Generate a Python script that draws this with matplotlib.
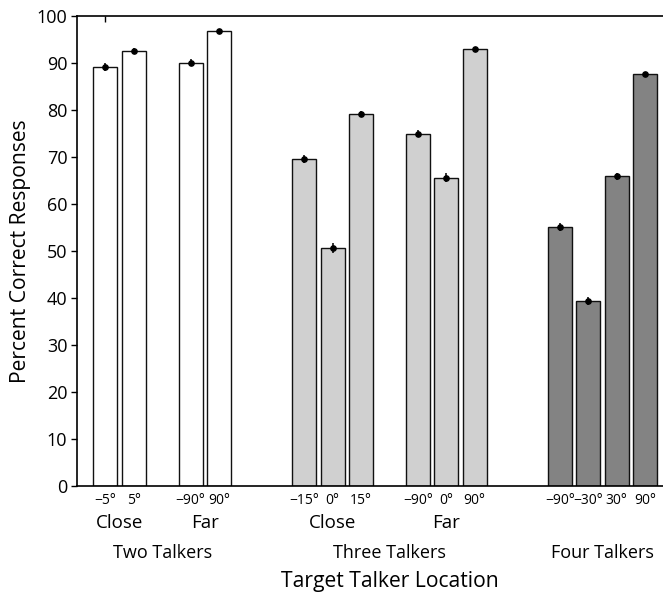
import matplotlib
matplotlib.use("Agg")
import matplotlib.pyplot as plt
import matplotlib.transforms as mtransforms

plt.rcParams['font.family'] = ['Open Sans', 'DejaVu Sans']

# ---- data ----
two_labels = ["\u22125\u00b0", "5\u00b0", "\u221290\u00b0", "90\u00b0"]
two_values = [89.1, 92.5, 90.1, 96.9]
two_err = [0.8, 0.6, 0.7, 0.4]
two_pos = [1, 2, 4, 5]

three_labels = ["\u221215\u00b0", "0\u00b0", "15\u00b0", "\u221290\u00b0", "0\u00b0", "90\u00b0"]
three_values = [69.6, 50.6, 79.1, 75.0, 65.6, 93.0]
three_err = [0.9, 1.0, 0.6, 0.8, 0.9, 0.4]
three_pos = [8, 9, 10, 12, 13, 14]

four_labels = ["\u221290\u00b0", "\u221230\u00b0", "30\u00b0", "90\u00b0"]
four_values = [55.1, 39.4, 65.9, 87.6]
four_err = [0.9, 0.9, 0.8, 0.4]
four_pos = [17, 18, 19, 20]

sub_labels = ["Close", "Far", "Close", "Far"]
sub_pos = [1.5, 4.5, 9, 13]
group_labels = ["Two Talkers", "Three Talkers", "Four Talkers"]
group_pos = [3, 11, 18.5]

colors = ["white", "#d0d0d0", "#838383"]

W, H = 663, 594
fig = plt.figure(figsize=(W / 100, H / 100), dpi=100)
left_px, top_px, bottom_px = 77, 16, 486
ax = fig.add_axes([left_px / W, 1 - bottom_px / H, 1 - left_px / W, (bottom_px - top_px) / H])

for pos, vals, errs, col in [(two_pos, two_values, two_err, colors[0]),
                             (three_pos, three_values, three_err, colors[1]),
                             (four_pos, four_values, four_err, colors[2])]:
    ax.bar(pos, vals, width=0.84, color=col, edgecolor="#111111", linewidth=1.0, zorder=2)
    ax.errorbar(pos, vals, yerr=errs, fmt="o", color="black", markersize=3.8,
                elinewidth=1.1, capsize=0, zorder=3)

ax.set_xlim(0, (W - left_px) / 28.4)
ax.set_ylim(0, 100)
ax.set_yticks(range(0, 101, 10))
ax.tick_params(axis="y", labelsize=13, length=4, width=1, direction="out", pad=3)

all_pos = two_pos + three_pos + four_pos
all_labels = two_labels + three_labels + four_labels
ax.set_xticks(all_pos, all_labels)
ax.tick_params(axis="x", labelsize=10, length=0, pad=5)

ax.spines["right"].set_visible(False)
for s in ["left", "top", "bottom"]:
    ax.spines[s].set_linewidth(1.2)

sec = ax.secondary_xaxis("top")
sec.set_xticks([1], [""])
sec.tick_params(direction="in", length=4, width=1)
sec.spines["top"].set_visible(False)

trans = mtransforms.blended_transform_factory(ax.transData, fig.transFigure)
for p, t in zip(sub_pos, sub_labels):
    fig.text(p, 1 - 523 / H, t, transform=trans, ha="center", va="center", fontsize=13.5)
for p, t in zip(group_pos, group_labels):
    fig.text(p, 1 - 553 / H, t, transform=trans, ha="center", va="center", fontsize=13)
fig.text(11, 1 - 582 / H, "Target Talker Location", transform=trans, ha="center",
         va="center", fontsize=15.2)

ax.set_ylabel("Percent Correct Responses", fontsize=15.2)
ax.yaxis.set_label_coords((31 - left_px) / (W - left_px), 0.5)

fig.savefig("out.png", dpi=100)
